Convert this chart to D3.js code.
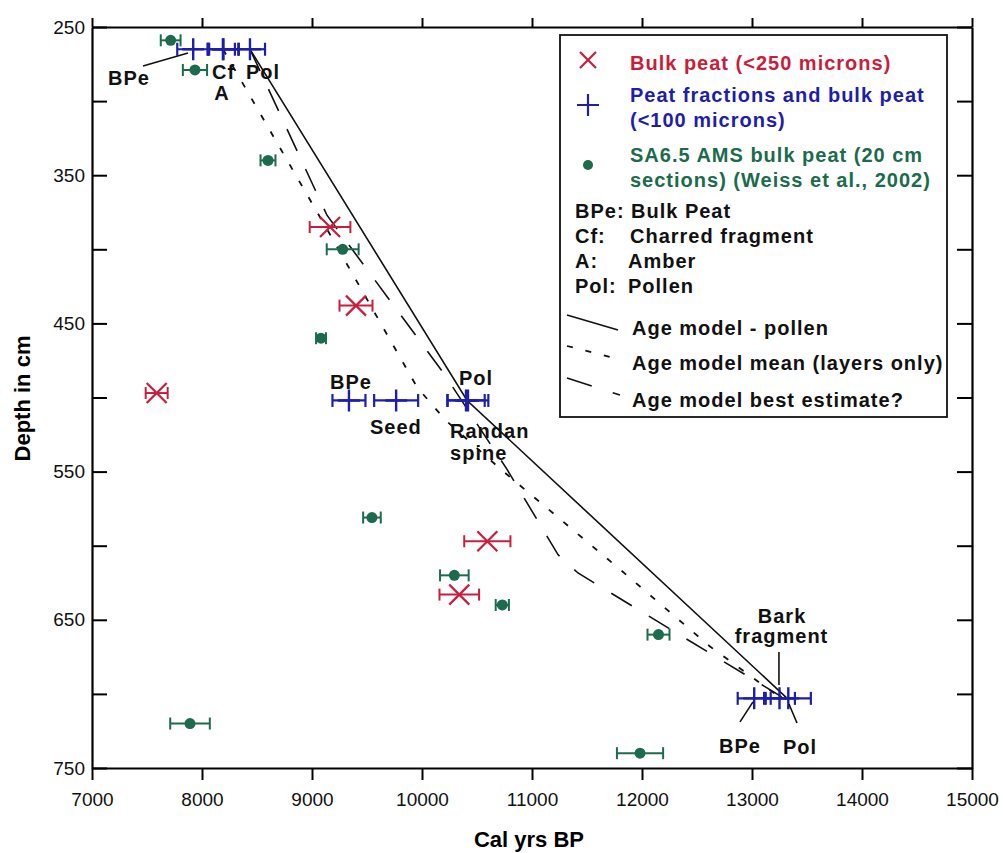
<!DOCTYPE html>
<html><head><meta charset="utf-8">
<script src="https://cdn.jsdelivr.net/npm/d3@7"></script>
<style>
body{margin:0;background:#fff}
svg{display:block}
text{font-family:"Liberation Sans",Arial,sans-serif}
</style>
</head><body>
<svg id="c" width="1003" height="853"></svg>
<script>
// ---- data ----
const xTicks = [7000, 8000, 9000, 10000, 11000, 12000, 13000, 14000, 15000];
const yTicks = [250, 300, 350, 400, 450, 500, 550, 600, 650, 700, 750];
const yLabelled = [250, 350, 450, 550, 650, 750];

// Bulk peat (<250 microns)
const redYear  = [9164, 9400, 7588, 10594, 10339];
const redErr   = [185, 150, 100, 210, 180];
const redDepth = [385, 438, 497, 597, 633];

// Peat fractions and bulk peat (<100 microns)
const blueYear  = [7920, 8190, 8195, 8436, 9336, 9765, 10400, 10418, 13020, 13250, 13330];
const blueErr   = [145, 140, 140, 137, 150, 200, 170, 185, 150, 140, 205];
const blueDepth = [265, 265, 265, 265, 502, 502, 502, 502, 703, 703, 703];

// SA6.5 AMS bulk peat
const greenYear  = [7715, 7936, 8600, 9279, 9082, 9545, 10294, 10730, 12150, 7891, 11982];
const greenErr   = [90, 110, 68, 145, 45, 80, 130, 60, 100, 180, 210];
const greenDepth = [259, 279, 340, 400, 460, 581, 620, 640, 660, 720, 740];

// Age models [year, depth]
const pollenModel = [[8436, 265], [10410, 502], [13320, 703]];
const meanModel = [[8191, 265], [9164, 390], [9955, 493], [10209, 515], [10709, 548], [11800, 616], [12618, 668], [13265, 703]];
const bestModel = [[8436, 265], [9136, 377], [10191, 483], [10773, 548.5], [11236, 606], [11418, 618.4], [13270, 702]];

// annotation labels
const annoText   = ["BPe", "Cf", "A", "Pol", "BPe", "Seed", "Pol", "Randan", "spine", "Bark", "fragment", "BPe", "Pol"];
const annoYear   = [7145, 8091, 8182, 8400, 9164, 9527, 10336, 10255, 10255, 13273, 13268, 12891, 13436];
const annoDepth  = [289, 285, 299, 285, 494.5, 524.5, 491.5, 527, 542.5, 652, 665.5, 740, 740.5];
const annoAnchor = ["start", "start", "middle", "start", "start", "start", "start", "start", "start", "middle", "middle", "middle", "middle"];

// leader lines: [year1, depth1, year2, depth2]
const leaders = [[7464, 276.3, 7873, 267.5], [13245, 671.7, 13245, 694], [13009, 705.4, 12891, 718.9], [13336, 706.8, 13409, 719.6]];

const redC = "#c81e3c", blueC = "#1e1eaa", greenC = "#1b6b4c";

// ---- scales ----
const svg = d3.select("#c");
const x = d3.scaleLinear().domain([7000, 15000]).range([92, 972]);
const y = d3.scaleLinear().domain([250, 750]).range([27, 768]);

// ---- axes ----
const axFont = g => g.selectAll("text").attr("font-size", 19).attr("fill", "#111")
  .attr("font-family", '"Liberation Sans",Arial,sans-serif');
const axStroke = g => { g.selectAll("path,line").attr("stroke", "#000").attr("stroke-width", 2); };

svg.append("g").attr("transform", `translate(0,${y(750)})`)
  .call(d3.axisBottom(x).tickValues(xTicks).tickSizeInner(12).tickSizeOuter(0).tickPadding(13).tickFormat(d3.format("d")))
  .call(axFont).call(axStroke);
svg.append("g").attr("transform", `translate(0,${y(250)})`)
  .call(d3.axisTop(x).tickValues(xTicks).tickSizeInner(9).tickSizeOuter(0).tickFormat(""))
  .call(axStroke);
svg.append("g").attr("transform", `translate(${x(7000)},0)`)
  .call(d3.axisLeft(y).tickValues(yTicks).tickSizeInner(-15).tickSizeOuter(0).tickPadding(7)
    .tickFormat(d => yLabelled.includes(d) ? d : ""))
  .call(axFont).call(axStroke);
svg.append("g").attr("transform", `translate(${x(15000)},0)`)
  .call(d3.axisRight(y).tickValues(yTicks).tickSizeInner(-15).tickSizeOuter(0).tickFormat(""))
  .call(axStroke);
svg.selectAll(".domain").attr("stroke-width", 2.2);

// axis titles
svg.append("text").attr("x", (x(7000) + x(15000)) / 2 - 3).attr("y", 847)
  .attr("text-anchor", "middle").attr("font-size", 22).attr("font-weight", "bold").text("Cal yrs BP");
svg.append("text").attr("transform", `translate(30,${(y(250) + y(750)) / 2 + 1}) rotate(-90)`)
  .attr("text-anchor", "middle").attr("font-size", 22).attr("font-weight", "bold").text("Depth in cm");

// ---- age model lines ----
const line = d3.line().x(d => x(d[0])).y(d => y(d[1]));
svg.append("path").datum(pollenModel).attr("d", line).attr("fill", "none").attr("stroke", "#111").attr("stroke-width", 1.6);
svg.append("path").datum(meanModel).attr("d", line).attr("fill", "none").attr("stroke", "#111").attr("stroke-width", 1.8).attr("stroke-dasharray", "6,13");
svg.append("path").datum(bestModel).attr("d", line).attr("fill", "none").attr("stroke", "#111").attr("stroke-width", 1.6).attr("stroke-dasharray", "24,20");

// ---- error bars helper ----
function errBars(g, years, errs, depths, color, cap, w) {
  years.forEach((v, i) => {
    const yy = y(depths[i]);
    g.append("line").attr("x1", x(v - errs[i])).attr("x2", x(v + errs[i])).attr("y1", yy).attr("y2", yy)
      .attr("stroke", color).attr("stroke-width", w);
    [v - errs[i], v + errs[i]].forEach(e => {
      g.append("line").attr("x1", x(e)).attr("x2", x(e)).attr("y1", yy - cap).attr("y2", yy + cap)
        .attr("stroke", color).attr("stroke-width", w);
    });
  });
}

// green
const gG = svg.append("g");
errBars(gG, greenYear, greenErr, greenDepth, greenC, 6, 2);
greenYear.forEach((v, i) => gG.append("circle").attr("cx", x(v)).attr("cy", y(greenDepth[i])).attr("r", 5.5).attr("fill", greenC));

// red
const gR = svg.append("g");
errBars(gR, redYear, redErr, redDepth, redC, 6, 2);
redYear.forEach((v, i) => {
  const cx = x(v), cy = y(redDepth[i]), s = 10;
  gR.append("path").attr("d", `M${cx - s},${cy - s}L${cx + s},${cy + s}M${cx - s},${cy + s}L${cx + s},${cy - s}`)
    .attr("stroke", redC).attr("stroke-width", 2.2).attr("fill", "none");
});

// blue
const gB = svg.append("g");
errBars(gB, blueYear, blueErr, blueDepth, blueC, 6.5, 2.2);
blueYear.forEach((v, i) => {
  const cx = x(v), cy = y(blueDepth[i]), s = 11;
  gB.append("path").attr("d", `M${cx - s},${cy}L${cx + s},${cy}M${cx},${cy - s}L${cx},${cy + s}`)
    .attr("stroke", blueC).attr("stroke-width", 2.4).attr("fill", "none");
});

// ---- annotations ----
annoText.forEach((t, i) => {
  svg.append("text").attr("x", x(annoYear[i])).attr("y", y(annoDepth[i])).attr("text-anchor", annoAnchor[i])
    .attr("font-size", 20).attr("font-weight", "bold").attr("letter-spacing", 1).attr("fill", "#111").text(t);
});
leaders.forEach(l => {
  svg.append("line").attr("x1", x(l[0])).attr("y1", y(l[1])).attr("x2", x(l[2])).attr("y2", y(l[3]))
    .attr("stroke", "#111").attr("stroke-width", 1.6);
});

// ---- legend ----
const lg = svg.append("g");
lg.append("rect").attr("x", 560).attr("y", 35).attr("width", 387).attr("height", 382)
  .attr("fill", "#fff").attr("stroke", "#111").attr("stroke-width", 1.8);
const lt = (tx, ty, s, c) => lg.append("text").attr("x", tx).attr("y", ty).attr("font-size", 20)
  .attr("font-weight", "bold").attr("letter-spacing", 1).attr("fill", c).text(s);
lg.append("path").attr("d", "M580,52L596,68M580,68L596,52").attr("stroke", redC).attr("stroke-width", 2.2);
lg.append("path").attr("d", "M577,105L599,105M588,94L588,116").attr("stroke", blueC).attr("stroke-width", 2.2);
lg.append("circle").attr("cx", 588).attr("cy", 165).attr("r", 5).attr("fill", greenC);
lt(630, 70, "Bulk peat (<250 microns)", redC);
lt(630, 102, "Peat fractions and bulk peat", blueC);
lt(630, 127, "(<100 microns)", blueC);
lt(630, 162, "SA6.5 AMS bulk peat (20 cm", greenC);
lt(630, 187, "sections) (Weiss et al., 2002)", greenC);
lt(575, 218, "BPe:", "#111"); lt(631, 218, "Bulk Peat", "#111");
lt(575, 243, "Cf:", "#111"); lt(630, 243, "Charred fragment", "#111");
lt(575, 268, "A:", "#111"); lt(628, 268, "Amber", "#111");
lt(575, 293, "Pol:", "#111"); lt(628, 293, "Pollen", "#111");
lg.append("line").attr("x1", 567).attr("y1", 315).attr("x2", 618).attr("y2", 330).attr("stroke", "#111").attr("stroke-width", 1.6);
lg.append("line").attr("x1", 567).attr("y1", 346).attr("x2", 614).attr("y2", 358).attr("stroke", "#111").attr("stroke-width", 1.8).attr("stroke-dasharray", "6,13");
lg.append("line").attr("x1", 567).attr("y1", 378).attr("x2", 620).attr("y2", 395).attr("stroke", "#111").attr("stroke-width", 1.6).attr("stroke-dasharray", "26,22");
lt(632, 335, "Age model - pollen", "#111");
lt(632, 370, "Age model mean (layers only)", "#111");
lt(632, 407, "Age model best estimate?", "#111");
</script>
</body></html>
